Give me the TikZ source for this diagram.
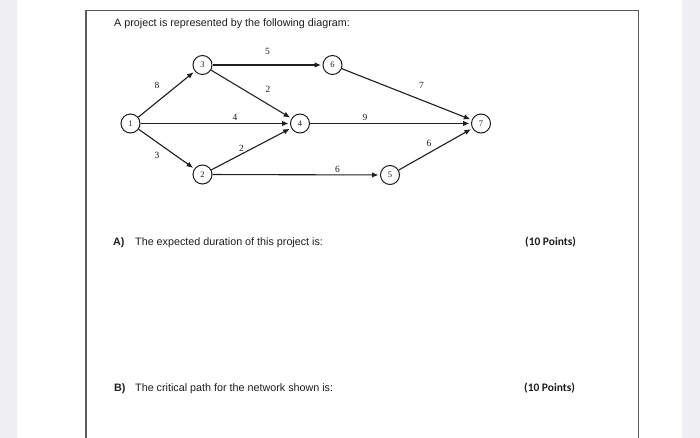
\documentclass[tikz,border=0pt]{standalone}
\usepackage{fontspec}
\setmainfont{Liberation Sans}
\newfontfamily\serifnum{Liberation Serif}
\newfontfamily\calib{Carlito}
\usetikzlibrary{arrows.meta}
\definecolor{pagegrey}{RGB}{238,238,243}
\definecolor{framegrey}{RGB}{90,90,90}
\definecolor{ink}{RGB}{30,30,30}
\tikzset{
  ev/.style={circle, draw=ink, line width=1bp, minimum size=19bp, inner sep=0pt,
    font=\serifnum\fontsize{8.5}{8.5}\selectfont, text=ink},
  act/.style={draw=ink, line width=1.1bp, -{Latex[length=6.5bp,width=5.5bp]}, shorten >=1.5bp},
  dur/.style={font=\serifnum\fontsize{9.5}{9.5}\selectfont, text=ink, inner sep=0pt},
  body/.style={font=\fontsize{10.8}{12}\selectfont, text=ink, inner sep=0pt, anchor=base west},
  pts/.style={font=\calib\bfseries\fontsize{11.5}{12}\selectfont, text=ink, inner sep=0pt, anchor=base west}
}
\begin{document}
\begin{tikzpicture}[x=1bp, y=-1bp]
\useasboundingbox (0,0) rectangle (700,438);
\fill[pagegrey] (0,0) rectangle (700,438);
\fill[white] (17,0) rectangle (682,438);
\draw[framegrey, line width=1.3bp] (86,438) -- (86,10.5) -- (638.5,10.5) -- (638.5,438);

\node[body] (title) at (114,26.5) {A project is represented by the following diagram:};

% events
\node[ev] (n1) at (130.5,123.5) {1};
\node[ev] (n3) at (202.5,65) {3};
\node[ev] (n6) at (332.5,65) {6};
\node[ev] (n4) at (300,123.5) {4};
\node[ev] (n2) at (202.5,174.5) {2};
\node[ev] (n5) at (390,175) {5};
\node[ev] (n7) at (481,123.5) {7};

% activities
\draw[act] (n1) -- (n3);
\draw[act] (n1) -- (n4);
\draw[act] (n1) -- (n2);
\draw[act] (n3) -- (n6);
\draw[act] (n3) -- (n4);
\draw[act] (n2) -- (n4);
\draw[act] (n2) -- (n5);
\draw[act] (n6) -- (n7);
\draw[act] (n4) -- (n7);
\draw[act] (n5) -- (n7);

% durations
\node[dur] (d36) at (267.5,51.5) {5};
\node[dur] (d13) at (157,85) {8};
\node[dur] (d34) at (268,89) {2};
\node[dur] (d14) at (235,117) {4};
\node[dur] (d47) at (365,117) {9};
\node[dur] (d67) at (421.5,85) {7};
\node[dur] (d57) at (429,143) {6};
\node[dur] (d24) at (241.5,148) {2};
\node[dur] (d12) at (157,155) {3};
\node[dur] (d25) at (337.5,169) {6};

% questions
\node[body, font=\bfseries\fontsize{10.8}{12}\selectfont] (qa) at (113,245.5) {A)};
\node[body] (qatext) at (135,245.5) {The expected duration of this project is:};
\node[pts] (pa) at (525,245.5) {(10 Points)};

\node[body, font=\bfseries\fontsize{10.8}{12}\selectfont] (qb) at (114,391) {B)};
\node[body] (qbtext) at (135,391) {The critical path for the network shown is:};
\node[pts] (pb) at (524,391) {(10 Points)};
\end{tikzpicture}
\end{document}
